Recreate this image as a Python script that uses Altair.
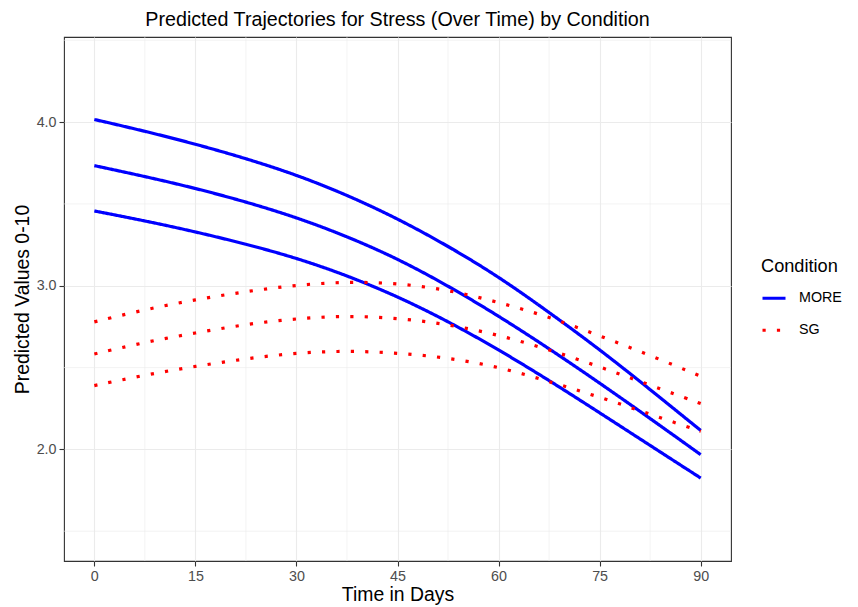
import altair as alt
import pandas as pd

days = [0, 7.5, 15, 22.5, 30, 37.5, 45, 52.5, 60, 67.5, 75, 82.5, 90]
more_high = [4.016, 3.945, 3.866, 3.778, 3.678, 3.555, 3.411, 3.243, 3.056, 2.838, 2.611, 2.366, 2.116]
more_mid = [3.734, 3.668, 3.596, 3.513, 3.418, 3.302, 3.166, 3.000, 2.816, 2.616, 2.406, 2.189, 1.968]
more_low = [3.457, 3.397, 3.330, 3.255, 3.170, 3.063, 2.935, 2.783, 2.610, 2.422, 2.224, 2.024, 1.825]
sg_high = [2.779, 2.855, 2.915, 2.965, 3.005, 3.025, 3.016, 2.975, 2.900, 2.810, 2.694, 2.575, 2.447]
sg_mid = [2.583, 2.655, 2.712, 2.765, 2.800, 2.817, 2.803, 2.765, 2.700, 2.610, 2.505, 2.393, 2.280]
sg_low = [2.390, 2.455, 2.508, 2.555, 2.590, 2.603, 2.590, 2.560, 2.505, 2.415, 2.320, 2.215, 2.110]

conditions = ["MORE", "SG"]
x_major = [0, 15, 30, 45, 60, 75, 90]
x_minor = [7.5, 22.5, 37.5, 52.5, 67.5, 82.5]
y_major = [2.0, 3.0, 4.0]
y_minor = [1.5, 2.5, 3.5, 4.5]

series = [
    ("MORE", "more_high", more_high),
    ("MORE", "more_mid", more_mid),
    ("MORE", "more_low", more_low),
    ("SG", "sg_high", sg_high),
    ("SG", "sg_mid", sg_mid),
    ("SG", "sg_low", sg_low),
]
rows = []
for cond, sid, vals in series:
    for d, v in zip(days, vals):
        rows.append({"day": d, "value": v, "Condition": cond, "sid": sid})
df = pd.DataFrame(rows)

FONT = "Liberation Sans"
xs = alt.Scale(domain=[-4.5, 94.5], nice=False, zero=False)
ys = alt.Scale(domain=[1.318, 4.52], nice=False, zero=False)

xgrid = alt.Chart(pd.DataFrame({"g": x_minor})).mark_rule(color="#ebebeb", strokeWidth=0.6).encode(
    x=alt.X("g:Q", scale=xs))
ygrid = alt.Chart(pd.DataFrame({"g": y_minor})).mark_rule(color="#ebebeb", strokeWidth=0.6).encode(
    y=alt.Y("g:Q", scale=ys))

lines = alt.Chart(df).mark_line(strokeWidth=3.2, strokeCap="butt", interpolate="basis", clip=True).encode(
    x=alt.X("day:Q", scale=xs, title="Time in Days",
            axis=alt.Axis(values=x_major, format="d", grid=True)),
    y=alt.Y("value:Q", scale=ys, title="Predicted Values 0-10",
            axis=alt.Axis(values=y_major, format=".1f", grid=True)),
    color=alt.Color("Condition:N", scale=alt.Scale(domain=conditions, range=["#0000ff", "#ff0000"]),
                    legend=alt.Legend(title="Condition")),
    strokeDash=alt.StrokeDash("Condition:N", scale=alt.Scale(domain=conditions, range=[[1, 0], [3.2, 11.2]]),
                              legend=alt.Legend(title="Condition")),
    detail="sid:N",
)

chart = alt.layer(xgrid, ygrid, lines).properties(
    width=667,
    height=524,
    title=alt.TitleParams("Predicted Trajectories for Stress (Over Time) by Condition",
                          font=FONT, fontSize=19.7, fontWeight="normal", color="#000000",
                          anchor="middle", frame="group", offset=7.5),
    autosize=alt.AutoSizeParams(type="none"),
    padding={"left": 56, "top": 29, "right": 118, "bottom": 46},
).configure_view(
    stroke="#333333", strokeWidth=1.1
).configure_axis(
    domain=False,
    gridColor="#ebebeb", gridWidth=1.1,
    tickColor="#333333", tickSize=5, tickWidth=1.1,
    labelFont=FONT, labelFontSize=14.3, labelColor="#4d4d4d", labelPadding=3,
    titleFont=FONT, titleFontSize=19.4, titleFontWeight="normal", titleColor="#000000",
).configure_axisX(
    titlePadding=2,
).configure_axisY(
    titlePadding=4,
).configure_legend(
    orient="none", legendX=697, legendY=221,
    titleFont=FONT, titleFontSize=18.2, titleFontWeight="normal", titleColor="#000000", titlePadding=9,
    labelFont=FONT, labelFontSize=14.3, labelColor="#000000", labelOffset=12,
    symbolType="stroke", symbolSize=529, symbolStrokeWidth=3, rowPadding=11,
)

chart.save("out.html", embed_options={"renderer": "svg", "actions": False})
